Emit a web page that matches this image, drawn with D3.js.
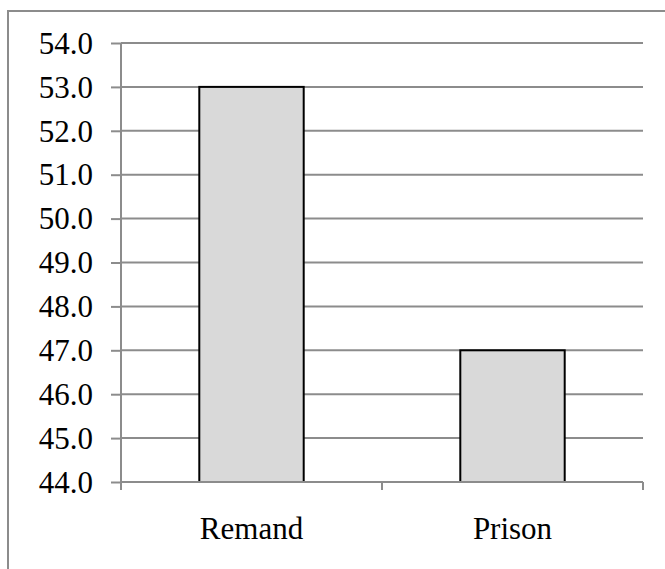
<!DOCTYPE html>
<html>
<head>
<meta charset="utf-8">
<script src="https://cdn.jsdelivr.net/npm/d3@7"></script>
<style>
  html, body { margin: 0; padding: 0; background: #fff; }
  svg { display: block; }
</style>
</head>
<body>
<svg id="chart" width="665" height="569"></svg>
<script>
// Data
const categories = ["Remand", "Prison"];
const values = [53.0, 47.0];
const yTicks = [44, 45, 46, 47, 48, 49, 50, 51, 52, 53, 54];

const FONT = "Liberation Serif, Times New Roman, serif";
const GRID = "#8c8c8c";

const svg = d3.select("#chart");

// Chart frame
svg.append("rect")
  .attr("x", 8).attr("y", 11)
  .attr("width", 700).attr("height", 600)
  .attr("fill", "none")
  .attr("stroke", GRID)
  .attr("stroke-width", 2);

const plot = { left: 121, right: 643, top: 43, bottom: 482 };

const x = d3.scaleBand()
  .domain(categories)
  .range([plot.left, plot.right]);

const y = d3.scaleLinear()
  .domain([44, 54])
  .range([plot.bottom, plot.top]);

// Horizontal gridlines
svg.append("g")
  .selectAll("line")
  .data(yTicks)
  .join("line")
  .attr("x1", plot.left).attr("x2", plot.right)
  .attr("y1", d => y(d)).attr("y2", d => y(d))
  .attr("stroke", GRID)
  .attr("stroke-width", 2);

// Y axis
const yAxis = svg.append("g")
  .attr("transform", `translate(${plot.left},0)`)
  .call(d3.axisLeft(y).tickValues(yTicks).tickFormat(d3.format(".1f")).tickSize(10).tickPadding(18))
  .attr("font-family", FONT)
  .attr("font-size", 31);
yAxis.select(".domain").attr("stroke", GRID).attr("stroke-width", 2).attr("d", `M0,${plot.top}V${plot.bottom + 8}`);
yAxis.selectAll(".tick line").attr("stroke", GRID).attr("stroke-width", 2);
yAxis.selectAll(".tick text")
  .attr("dy", "0.33em")
  .attr("fill", "#000");

// Bars
const barW = x.bandwidth() / 2.5;
svg.append("g")
  .selectAll("rect")
  .data(categories.map((c, i) => ({ c, v: values[i] })))
  .join("rect")
  .attr("x", d => x(d.c) + (x.bandwidth() - barW) / 2)
  .attr("width", barW)
  .attr("y", d => y(d.v))
  .attr("height", d => y(44) - y(d.v))
  .attr("fill", "#d9d9d9")
  .attr("stroke", "#000")
  .attr("stroke-width", 2);

// X axis
const xAxis = svg.append("g")
  .attr("transform", `translate(0,${plot.bottom})`);
xAxis.append("line")
  .attr("x1", plot.left).attr("x2", plot.right)
  .attr("stroke", GRID).attr("stroke-width", 2);
const bounds = [plot.left, ...categories.map(c => x(c) + x.bandwidth())];
xAxis.selectAll("line.tick")
  .data(bounds)
  .join("line")
  .attr("class", "tick")
  .attr("x1", d => d).attr("x2", d => d)
  .attr("y1", 0).attr("y2", 8)
  .attr("stroke", GRID).attr("stroke-width", 2);
xAxis.selectAll("text")
  .data(categories)
  .join("text")
  .attr("x", d => x(d) + x.bandwidth() / 2)
  .attr("y", 539 - plot.bottom)
  .attr("text-anchor", "middle")
  .attr("font-family", FONT)
  .attr("font-size", 31)
  .attr("fill", "#000")
  .text(d => d);
</script>
</body>
</html>
